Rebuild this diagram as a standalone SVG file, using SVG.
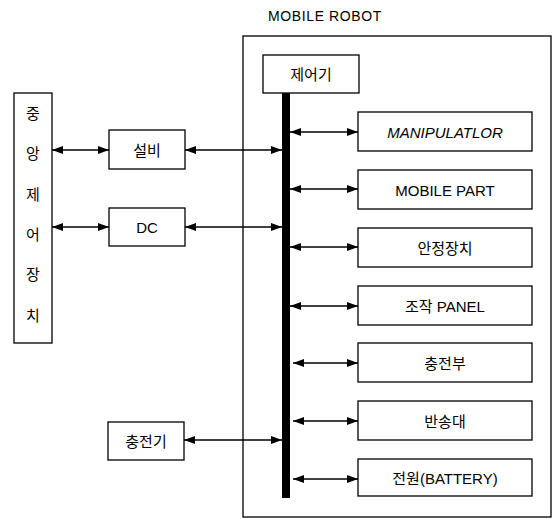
<svg xmlns="http://www.w3.org/2000/svg" width="555" height="519" viewBox="0 0 555 519">
<style>
.box{fill:#fff;stroke:#000;stroke-width:1.3}
.t{font-family:"Liberation Sans","Noto Sans CJK KR",sans-serif;font-size:15px;fill:#000;text-anchor:middle;dominant-baseline:central}
.c{stroke:#000;stroke-width:1.4;fill:none;marker-start:url(#ah);marker-end:url(#ah)}
</style>
<defs>
<marker id="ah" viewBox="0 0 11 8" refX="11" refY="4" markerWidth="11" markerHeight="8" markerUnits="userSpaceOnUse" orient="auto-start-reverse">
<path d="M0,0 L11,4 L0,8 Z" fill="#000"/>
</marker>
</defs>
<rect width="555" height="519" fill="#fff"/>
<text class="t" x="325" y="16" style="font-size:14px;letter-spacing:0.6px">MOBILE ROBOT</text>
<g id="mobile-robot"><rect class="box" x="243" y="36" width="308" height="481" fill="none"/></g>
<g id="controller"><rect class="box" x="263" y="55" width="96" height="38"/><text class="t" x="311" y="74">제어기</text></g>
<g id="bus"><rect x="282" y="93" width="8" height="405" fill="#000"/></g>
<g id="central"><rect class="box" x="14" y="93" width="38" height="250"/>
<text class="t" x="33" y="113">중</text><text class="t" x="33" y="153">앙</text><text class="t" x="33" y="194">제</text><text class="t" x="33" y="234">어</text><text class="t" x="33" y="274">장</text><text class="t" x="33" y="315">치</text></g>
<g id="facility"><rect class="box" x="109" y="130" width="76" height="39"/><text class="t" x="147" y="150">설비</text></g>
<g id="dc"><rect class="box" x="109" y="208" width="76" height="38"/><text class="t" x="147" y="227">DC</text></g>
<g id="charger"><rect class="box" x="108" y="422" width="76" height="38"/><text class="t" x="146" y="441">충전기</text></g>
<g id="manipulator"><rect class="box" x="358" y="112" width="174" height="39"/><text class="t" x="445" y="132" style="font-style:italic">MANIPULATLOR</text></g>
<g id="mobile-part"><rect class="box" x="358" y="170" width="174" height="39"/><text class="t" x="445" y="190">MOBILE PART</text></g>
<g id="safety"><rect class="box" x="358" y="228" width="174" height="39"/><text class="t" x="445" y="248">안정장치</text></g>
<g id="panel"><rect class="box" x="358" y="286" width="174" height="39"/><text class="t" x="445" y="306">조작 PANEL</text></g>
<g id="charging"><rect class="box" x="358" y="343" width="174" height="39"/><text class="t" x="445" y="363">충전부</text></g>
<g id="carrier"><rect class="box" x="358" y="401" width="174" height="39"/><text class="t" x="445" y="421">반송대</text></g>
<g id="power"><rect class="box" x="358" y="459" width="174" height="37"/><text class="t" x="445" y="478">전원(BATTERY)</text></g>
<g id="connectors">
<line class="c" x1="52" y1="150" x2="109" y2="150"/>
<line class="c" x1="185" y1="150" x2="282" y2="150"/>
<line class="c" x1="52" y1="227" x2="109" y2="227"/>
<line class="c" x1="185" y1="227" x2="282" y2="227"/>
<line class="c" x1="184" y1="440" x2="282" y2="440"/>
<line class="c" x1="290" y1="132" x2="358" y2="132"/>
<line class="c" x1="290" y1="189" x2="358" y2="189"/>
<line class="c" x1="290" y1="247" x2="358" y2="247"/>
<line class="c" x1="290" y1="306" x2="358" y2="306"/>
<line class="c" x1="293" y1="363" x2="358" y2="363"/>
<line class="c" x1="293" y1="421" x2="358" y2="421"/>
<line class="c" x1="293" y1="479" x2="358" y2="479"/>
</g>
</svg>
